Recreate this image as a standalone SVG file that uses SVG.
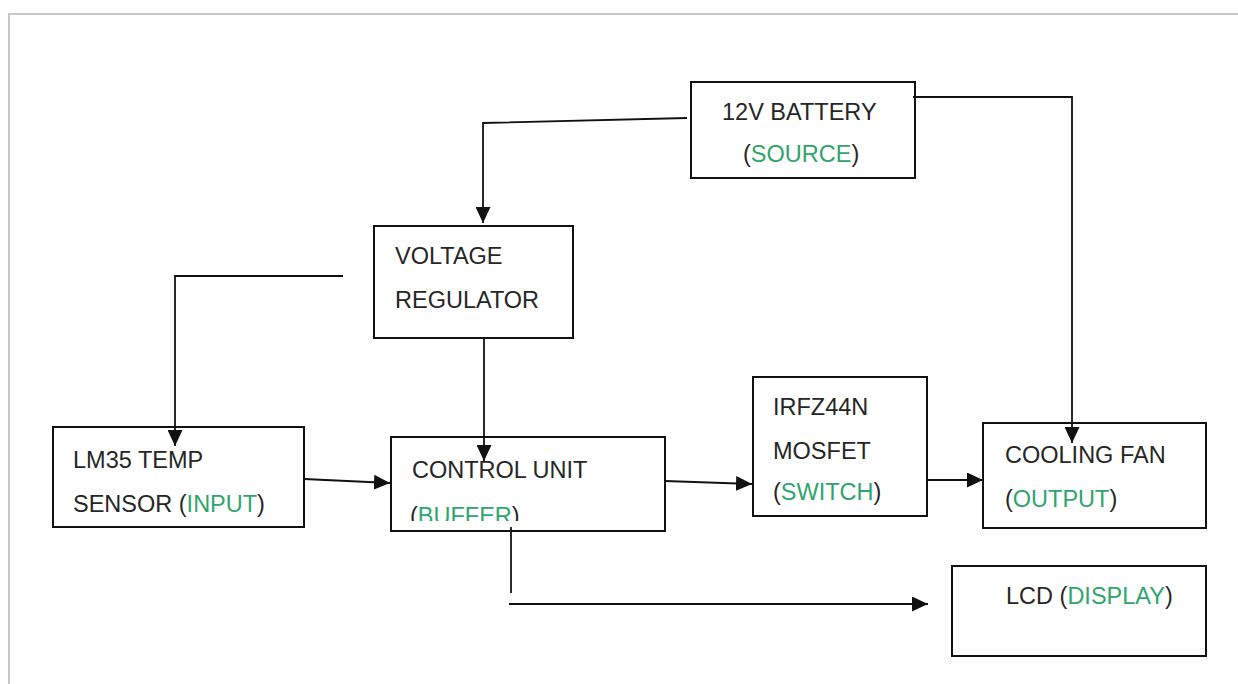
<svg xmlns="http://www.w3.org/2000/svg" width="1238" height="684" viewBox="0 0 1238 684">
<defs>
<style>
.box{fill:#fff;stroke:#111;stroke-width:2}
.t{font-family:"Liberation Sans",Arial,sans-serif;font-size:23.5px;fill:#262626}
.g{fill:#2fa56d}
.ln{fill:none;stroke:#111;stroke-width:1.8}
.arr{marker-end:url(#ah)}
</style>
<marker id="ah" markerUnits="userSpaceOnUse" markerWidth="16" markerHeight="15" refX="16" refY="7.5" orient="auto">
<path d="M0,0 L16,7.5 L0,15 z" fill="#111"/>
</marker>
<clipPath id="cuclip"><rect x="391" y="437" width="274" height="84"/></clipPath>
</defs>
<rect width="1238" height="684" fill="#fff"/>
<g id="page-border" fill="none" stroke="#c8c8c8" stroke-width="2">
<path d="M9,684 L9,14 L1238,14"/>
</g>
<g id="battery">
<rect class="box" x="691" y="82" width="224" height="96"/>
<text class="t" x="722" y="120">12V BATTERY</text>
<text class="t" x="743" y="162">(<tspan class="g">SOURCE</tspan>)</text>
</g>
<g id="regulator">
<rect class="box" x="374" y="226" width="199" height="112"/>
<text class="t" x="395" y="264">VOLTAGE</text>
<text class="t" x="395" y="308">REGULATOR</text>
</g>
<g id="lm35">
<rect class="box" x="53" y="427" width="251" height="100"/>
<text class="t" x="73" y="468">LM35 TEMP</text>
<text class="t" x="73" y="512">SENSOR (<tspan class="g">INPUT</tspan>)</text>
</g>
<g id="control-unit">
<rect class="box" x="391" y="437" width="274" height="94"/>
<text class="t" x="412" y="478">CONTROL UNIT</text>
<text class="t" x="410" y="524" clip-path="url(#cuclip)">(<tspan class="g">BUFFER</tspan>)</text>
</g>
<g id="mosfet">
<rect class="box" x="753" y="377" width="174" height="139"/>
<text class="t" x="773" y="415">IRFZ44N</text>
<text class="t" x="773" y="459">MOSFET</text>
<text class="t" x="773" y="500">(<tspan class="g">SWITCH</tspan>)</text>
</g>
<g id="cooling-fan">
<rect class="box" x="983" y="423" width="223" height="105"/>
<text class="t" x="1005" y="463">COOLING FAN</text>
<text class="t" x="1005" y="507">(<tspan class="g">OUTPUT</tspan>)</text>
</g>
<g id="lcd">
<rect class="box" x="952" y="566" width="254" height="90"/>
<text class="t" x="1006" y="604">LCD (<tspan class="g">DISPLAY</tspan>)</text>
</g>
<g id="connectors">
<path class="ln arr" d="M687,118 L483,123 L483,223"/>
<path class="ln arr" d="M913,97 L1072,97 L1072,443"/>
<path class="ln arr" d="M343,276 L175,276 L175,446"/>
<path class="ln arr" d="M484,338 L484,461"/>
<path class="ln arr" d="M304,479 L390,483"/>
<path class="ln arr" d="M665,481 L752,484"/>
<path class="ln arr" d="M927,480 L983,480"/>
<path class="ln" d="M511,527 L511,593"/>
<path class="ln arr" d="M509,604 L928,604"/>
</g>
</svg>
